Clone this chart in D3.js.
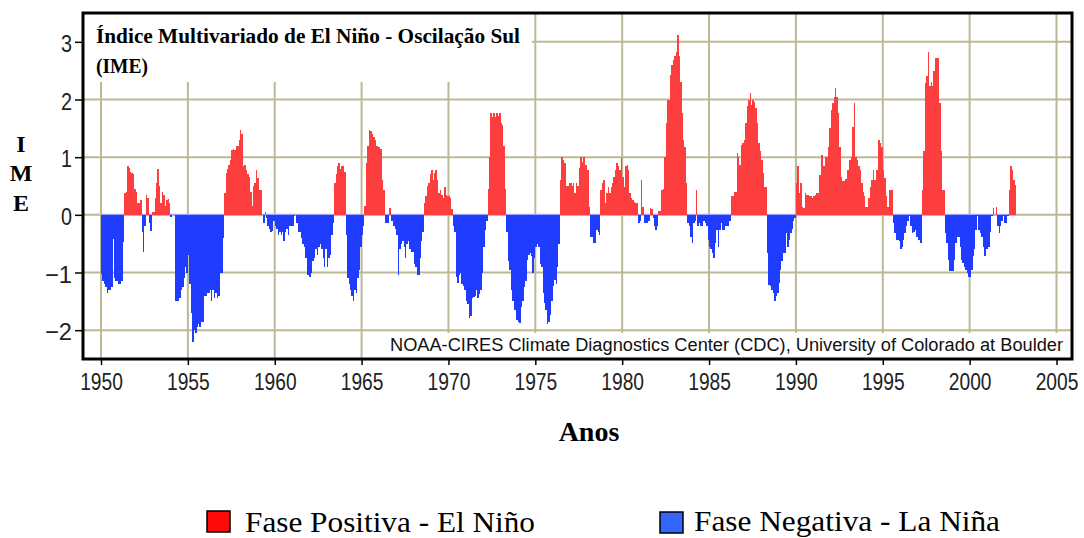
<!DOCTYPE html>
<html lang="pt">
<head>
<meta charset="utf-8">
<title>Índice Multivariado de El Niño - Oscilação Sul (IME)</title>
<script src="https://cdn.jsdelivr.net/npm/d3@7"></script>
<style>
  html, body { margin: 0; padding: 0; background: #ffffff; }
  svg { display: block; }
</style>
</head>
<body>
<svg id="chart" width="1084" height="538"></svg>
<script>
// Bimonthly MEI values, one per month starting January 1950, grouped by decade.
const mei1950s = [
  -1.03, -1.15, -1.2, -1.25, -1.35, -1.3, -1.3, -1.25, -0.42, -1.1, -1.15, -1.15,
  -1.2, -1.2, -1.15, -0.47, 0.38, 0.4, 0.85, 0.82, 0.75, 0.72, 0.7, 0.45,
  0.4, 0.2, 0.2, 0.25, -0.3, -0.65, -0.2, 0.35, 0.3, -0.15, -0.28, 0.05,
  0.05, 0.3, 0.55, 0.8, 0.5, 0.2, 0.4, 0.35, 0.15, 0.25, 0.28, 0.2,
  -0.03, 0.0, 0.0, -1.5, -1.5, -1.5, -1.45, -1.3, -1.25, -1.1, -0.9, -1.0,
  -0.7, -1.2, -1.7, -2.2, -2.0, -2.05, -1.95, -1.9, -1.95, -1.85, -1.85, -1.4,
  -1.4, -1.35, -1.35, -1.3, -1.5, -1.3, -1.45, -1.35, -1.45, -1.4, -1.0, -1.0,
  -0.4, 0.38, 0.72, 0.8, 0.87, 0.95, 1.13, 1.15, 1.13, 1.2, 1.2, 1.3,
  1.47, 1.4, 0.85, 0.87, 0.78, 0.7, 0.66, 0.4, 0.15, 0.5, 0.55, 0.78,
  0.64, 0.43, 0.43, 0.0, -0.15, 0.05, -0.05, -0.2, -0.25, -0.3, -0.28, -0.1
];
const mei1960s = [
  -0.2, -0.25, -0.35, -0.3, -0.35, -0.3, -0.45, -0.3, -0.25, -0.35, -0.2, -0.2,
  -0.2, -0.02, 0.0, -0.15, -0.3, -0.3, -0.4, -0.5, -0.55, -0.75, -1.05, -1.05,
  -1.08, -1.0, -0.8, -0.75, -0.6, -0.7, -0.55, -0.5, -0.6, -0.75, -0.9, -0.6,
  -0.9, -0.75, -0.7, -0.35, -0.15, 0.55, 0.7, 0.85, 0.9, 0.8, 0.85, 0.85,
  0.75, -0.35, -1.1, -1.2, -1.3, -1.4, -1.5, -1.3, -1.35, -1.1, -0.95, -0.55,
  -0.35, -0.2, 0.15, 0.9, 1.2, 1.47, 1.45, 1.4, 1.35, 1.3, 1.2, 1.18,
  1.18, 1.15, 0.6, 0.43, -0.15, -0.15, -0.15, 0.12, -0.1, -0.1, -0.2, -0.25,
  -0.35, -1.04, -0.6, -0.5, -0.45, -0.55, -0.75, -0.5, -0.45, -0.6, -0.65, -0.65,
  -0.85, -0.9, -1.05, -1.05, -0.75, -0.45, -0.3, 0.2, 0.32, 0.5, 0.55, 0.7,
  0.77, 0.6, 0.72, 0.77, 0.6, 0.37, 0.43, 0.35, 0.3, 0.49, 0.35, 0.32
];
const mei1970s = [
  0.32, 0.3, 0.1, -0.2, -0.3, -1.07, -1.18, -1.05, -1.0, -1.2, -1.24, -1.3,
  -1.5, -1.55, -1.79, -1.75, -1.45, -1.42, -1.4, -1.3, -1.45, -1.37, -1.3, -1.0,
  -0.55, -0.26, -0.1, 0.45, 1.0, 1.76, 1.7, 1.76, 1.7, 1.76, 1.72, 1.76,
  1.6, 1.55, 1.2, 0.45, -0.3, -0.8, -0.95, -1.3, -1.5, -1.65, -1.65, -1.82,
  -1.85, -1.88, -1.6, -1.5, -1.25, -1.15, -0.78, -0.7, -0.66, -0.72, -1.0, -0.75,
  -0.55, -0.5, -0.55, -0.85, -0.9, -1.36, -1.53, -1.65, -1.9, -1.85, -1.73, -1.5,
  -1.24, -1.13, -1.2, -0.9, -0.5, 0.6, 1.0, 0.95, 0.9, 0.5, 0.5, 0.55,
  0.55, 0.5, 0.55, 0.38, 0.55, 0.5, 0.81, 1.01, 0.92, 1.0, 0.87, 0.87,
  0.78, 0.14, -0.38, -0.38, -0.49, -0.49, -0.26, -0.3, -0.35, 0.43, 0.55, 0.61,
  0.2, 0.38, 0.49, 0.38, 0.49, 0.55, 0.66, 0.78, 0.9, 0.85, 0.78, 0.98
];
const mei1980s = [
  0.66, 0.49, 0.84, 0.87, 0.78, 0.38, 0.3, 0.26, 0.22, 0.2, 0.2, -0.14,
  -0.1, 0.61, 0.14, -0.15, -0.15, -0.15, -0.1, 0.12, 0.1, -0.05, -0.2, -0.26,
  -0.2, 0.06, 0.06, 0.43, 0.45, 1.0, 1.59, 2.0, 2.0, 2.43, 2.6, 2.69,
  2.75, 2.83, 3.12, 2.75, 2.3, 1.76, 1.3, 1.18, 0.55, -0.14, -0.2, -0.38,
  -0.49, -0.15, -0.1, 0.43, -0.2, -0.15, -0.2, -0.2, -0.1, -0.15, -0.2, -0.43,
  -0.55, -0.6, -0.66, -0.75, -0.49, -0.26, -0.55, -0.26, -0.14, -0.26, -0.26, -0.2,
  -0.2, -0.2, -0.1, 0.32, 0.32, 0.4, 0.4, 1.07, 1.0, 0.87, 1.21, 1.24,
  1.3, 1.59, 1.88, 2.0, 2.11, 1.9, 1.99, 1.95, 1.85, 1.59, 1.24, 1.1,
  0.95, 0.72, 0.49, 0.49, -0.66, -1.21, -1.24, -1.3, -1.36, -1.5, -1.4, -1.36,
  -1.18, -0.95, -0.8, -0.66, -0.66, -0.32, -0.55, -0.43, -0.32, -0.25, -0.1, -0.05
];
const mei1990s = [
  0.55, 0.84, 0.38, 0.55, 0.14, 0.12, 0.38, 0.35, 0.35, 0.32, 0.32, 0.3,
  0.32, 0.35, 0.38, 0.38, 0.69, 1.04, 1.04, 0.84, 1.01, 1.01, 1.18, 1.5,
  1.82, 1.94, 2.05, 2.2, 2.05, 1.76, 1.18, 0.66, 0.58, 0.58, 0.62, 0.78,
  0.78, 0.95, 1.01, 1.53, 1.94, 1.0, 0.95, 0.84, 0.78, 0.55, 0.4, 0.32,
  0.14, 0.14, 0.3, 0.49, 0.61, 0.78, 0.6, 0.78, 0.78, 1.3, 1.24, 1.18,
  0.78, 0.64, 0.32, 0.14, 0.43, 0.43, 0.43, -0.15, -0.32, -0.43, -0.43, -0.46,
  -0.6, -0.55, -0.43, -0.32, -0.2, -0.1, -0.02, -0.2, -0.32, -0.3, -0.26, -0.38,
  -0.43, -0.43, -0.49, 0.43, 1.1, 2.28, 2.4, 2.83, 2.23, 2.3, 2.23, 2.5,
  2.72, 2.72, 2.72, 1.94, 1.1, 0.43, 0.43, -0.32, -0.49, -0.78, -0.98, -0.98,
  -0.98, -0.78, -0.49, -0.38, -0.38, -0.55, -0.78, -0.84, -0.9, -0.95, -1.0, -1.07
];
const mei2000s = [
  -1.07, -0.95, -0.72, -0.6, -0.26, -0.02, -0.26, -0.32, -0.38, -0.55, -0.72, -0.6,
  -0.6, -0.55, -0.3, -0.02, 0.12, 0.0, 0.14, -0.2, -0.32, -0.2, -0.1, -0.02,
  -0.15, -0.15, -0.02, 0.43, 0.84, 0.78, 0.61, 0.52
];

const startYear = 1950;
const yTicks = [-2, -1, 0, 1, 2, 3];
const yTickLabels = ["\u22122", "\u22121", "0", "1", "2", "3"];
const xTicks = [1950, 1955, 1960, 1965, 1970, 1975, 1980, 1985, 1990, 1995, 2000, 2005];
const xTickLabels = ["1950", "1955", "1960", "1965", "1970", "1975", "1980", "1985", "1990", "1995", "2000", "2005"];
const legendLabels = ["Fase Positiva - El Niño", "Fase Negativa - La Niña"];

const series = [].concat(mei1950s, mei1960s, mei1970s, mei1980s, mei1990s, mei2000s)
  .map((v, i) => ({ t: startYear + i / 12, v }));

// Plot frame
const frame = { left: 83, top: 13, right: 1072, bottom: 359 };

const x = d3.scaleLinear().domain([1950, 2005]).range([101, 1056.5]);
const y = d3.scaleLinear().domain([-2.5, 3.5]).range([frame.bottom, frame.top]);

const svg = d3.select("#chart");
svg.append("rect").attr("width", 1084).attr("height", 538).attr("fill", "#ffffff");

const gridColor = "#bcb994";
const grid = svg.append("g").attr("stroke", gridColor).attr("stroke-width", 2);
grid.selectAll("line.h").data(yTicks).join("line")
  .attr("class", "h")
  .attr("x1", frame.left).attr("x2", frame.right)
  .attr("y1", d => y(d)).attr("y2", d => y(d));
grid.selectAll("line.v").data(xTicks).join("line")
  .attr("class", "v")
  .attr("x1", d => x(d)).attr("x2", d => x(d))
  .attr("y1", frame.top).attr("y2", frame.bottom);

// White panels behind the title and the credit line
svg.append("rect").attr("x", frame.left).attr("y", frame.top)
  .attr("width", 449).attr("height", 69).attr("fill", "#ffffff");
svg.append("rect").attr("x", 388).attr("y", 333)
  .attr("width", frame.right - 388).attr("height", frame.bottom - 333).attr("fill", "#ffffff");

// Zero baseline across the data span
const tEnd = startYear + series.length / 12;
svg.append("line")
  .attr("x1", x(startYear)).attr("x2", x(tEnd))
  .attr("y1", y(0)).attr("y2", y(0))
  .attr("stroke", "#9aa6ff").attr("stroke-width", 1.5);

// Monthly bars: red above zero, blue below
const posColor = "#fc3e3e";
const negColor = "#1f3cff";
svg.append("g").attr("shape-rendering", "crispEdges")
  .selectAll("rect").data(series.filter(d => d.v !== 0)).join("rect")
  .attr("x", d => x(d.t))
  .attr("width", d => x(d.t + 1 / 12) - x(d.t))
  .attr("y", d => d.v > 0 ? y(d.v) : y(0))
  .attr("height", d => Math.abs(y(d.v) - y(0)))
  .attr("fill", d => d.v > 0 ? posColor : negColor);

// Axes (tall, narrow digits)
const tickFont = '"Liberation Sans", Arial, sans-serif';
const yAxis = svg.append("g")
  .attr("transform", `translate(${frame.left},0)`)
  .call(d3.axisLeft(y).tickValues(yTicks).tickFormat((d, i) => yTickLabels[i]).tickSize(8).tickPadding(3));
yAxis.select(".domain").remove();
yAxis.selectAll(".tick line").attr("stroke", "#000").attr("stroke-width", 1.5);
yAxis.selectAll(".tick text")
  .attr("font-family", tickFont).attr("font-size", 24).attr("fill", "#222").attr("dy", "0.4em")
  .attr("textLength", (d, i) => yTickLabels[i].length > 1 ? 27 : 11)
  .attr("lengthAdjust", "spacingAndGlyphs");

const xAxis = svg.append("g")
  .attr("transform", `translate(0,${frame.bottom})`)
  .call(d3.axisBottom(x).tickValues(xTicks).tickFormat((d, i) => xTickLabels[i]).tickSize(6).tickPadding(8));
xAxis.select(".domain").remove();
xAxis.selectAll(".tick line").attr("stroke", "#000").attr("stroke-width", 1.5);
xAxis.selectAll(".tick text")
  .attr("font-family", tickFont).attr("font-size", 24).attr("fill", "#222")
  .attr("transform", "scale(0.8,1)");

// Frame
svg.append("rect")
  .attr("x", frame.left).attr("y", frame.top)
  .attr("width", frame.right - frame.left).attr("height", frame.bottom - frame.top)
  .attr("fill", "none").attr("stroke", "#000").attr("stroke-width", 3);

// Title inside the plot
const serif = '"Liberation Serif", "Times New Roman", serif';
svg.append("text").attr("x", 96).attr("y", 43)
  .attr("font-family", serif).attr("font-weight", "bold").attr("font-size", 22)
  .attr("textLength", 424).attr("lengthAdjust", "spacingAndGlyphs")
  .text("Índice Multivariado de El Niño - Oscilação Sul");
svg.append("text").attr("x", 96).attr("y", 73)
  .attr("font-family", serif).attr("font-weight", "bold").attr("font-size", 22)
  .attr("textLength", 52).attr("lengthAdjust", "spacingAndGlyphs")
  .text("(IME)");

// Credit line
svg.append("text").attr("x", 390).attr("y", 351)
  .attr("font-family", tickFont).attr("font-size", 18).attr("fill", "#111")
  .attr("textLength", 673).attr("lengthAdjust", "spacingAndGlyphs")
  .text("NOAA-CIRES Climate Diagnostics Center (CDC), University of Colorado at Boulder");

// Y axis title, stacked letters
const yTitle = ["I", "M", "E"];
const yTitleBase = [152, 181, 211];
svg.append("g").selectAll("text").data(yTitle).join("text")
  .attr("x", 21).attr("y", (d, i) => yTitleBase[i])
  .attr("text-anchor", "middle")
  .attr("font-family", serif).attr("font-weight", "bold").attr("font-size", 24)
  .text(d => d);

// X axis title
svg.append("text").attr("x", 589).attr("y", 441)
  .attr("text-anchor", "middle")
  .attr("font-family", serif).attr("font-weight", "bold").attr("font-size", 28)
  .text("Anos");

// Legend
const legend = [
  { label: legendLabels[0], fill: "#ff0a0a", bx: 207, by: 511, tx: 245, ty: 532, tl: 290 },
  { label: legendLabels[1], fill: "#3366ff", bx: 660, by: 512, tx: 694, ty: 531, tl: 306 }
];
const lg = svg.append("g");
legend.forEach(d => {
  lg.append("rect").attr("x", d.bx).attr("y", d.by).attr("width", 23).attr("height", 21)
    .attr("fill", d.fill).attr("stroke", "#000").attr("stroke-width", 1.5);
  lg.append("text").attr("x", d.tx).attr("y", d.ty)
    .attr("font-family", serif).attr("font-size", 29)
    .attr("textLength", d.tl).attr("lengthAdjust", "spacingAndGlyphs")
    .text(d.label);
});
</script>
</body>
</html>
